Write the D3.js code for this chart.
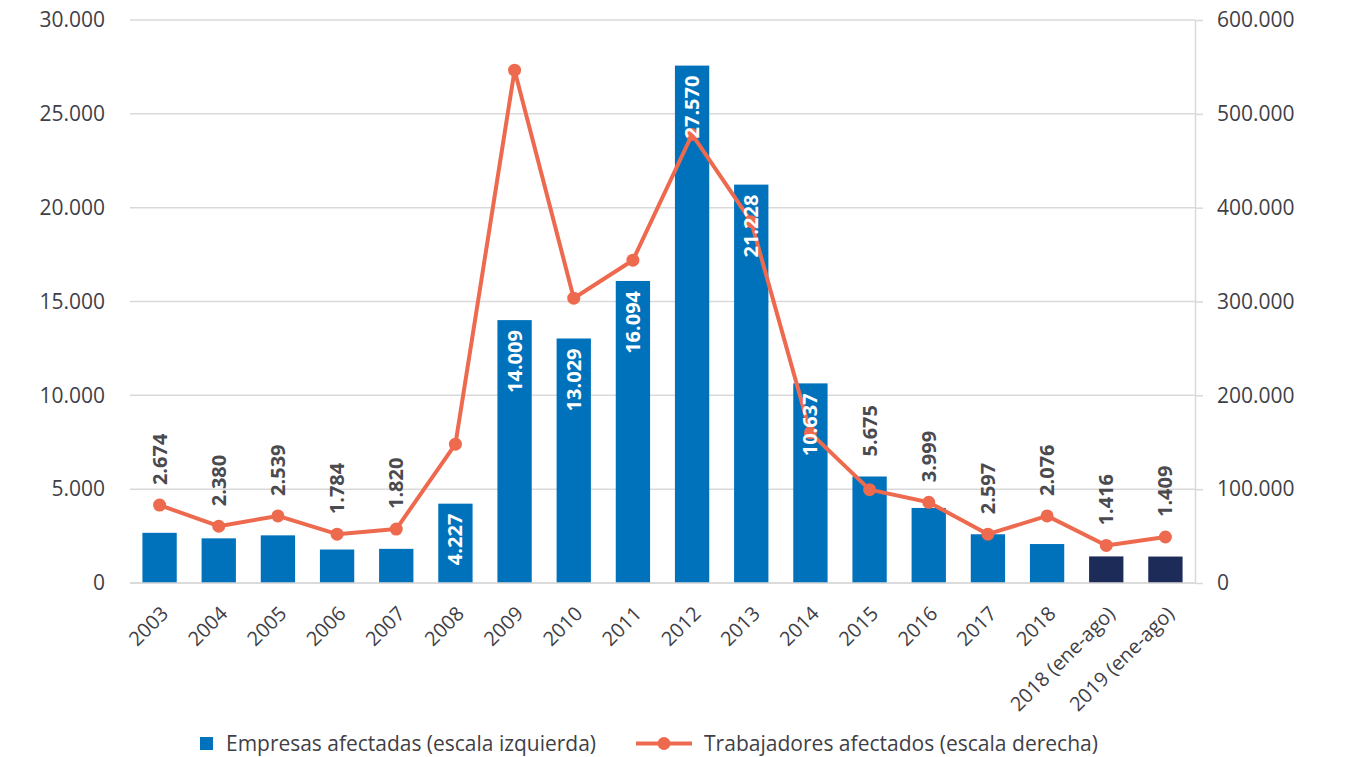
<!DOCTYPE html>
<html>
<head>
<meta charset="utf-8">
<script src="https://cdn.jsdelivr.net/npm/d3@7"></script>
<style>
  html, body { margin: 0; padding: 0; background: #fff; }
  svg { display: block; }
  text { font-family: "Open Sans", "Noto Sans", sans-serif; }
</style>
</head>
<body>
<svg id="chart" width="1349" height="757"></svg>
<script>
// ---- data ----
const categories = ["2003","2004","2005","2006","2007","2008","2009","2010","2011","2012","2013","2014","2015","2016","2017","2018","2018 (ene-ago)","2019 (ene-ago)"];
const empresas = [2674, 2380, 2539, 1784, 1820, 4227, 14009, 13029, 16094, 27570, 21228, 10637, 5675, 3999, 2597, 2076, 1416, 1409];
const trabajadores = [83000, 60500, 71500, 52000, 57500, 148000, 546500, 303500, 344000, 478000, 385000, 160000, 99500, 86000, 52000, 71500, 40000, 49000];
const partial = [false,false,false,false,false,false,false,false,false,false,false,false,false,false,false,false,true,true];
const labelInside = [false,false,false,false,false,true,true,true,true,true,true,true,false,false,false,false,false,false];
const leftTicks = [0, 5000, 10000, 15000, 20000, 25000, 30000];
const rightTicks = [0, 100000, 200000, 300000, 400000, 500000, 600000];
const legendLabels = ["Empresas afectadas (escala izquierda)", "Trabajadores afectados (escala derecha)"];

// ---- setup ----
const locale = d3.formatLocale({decimal: ",", thousands: ".", grouping: [3], currency: ["", ""]});
const fmt = locale.format(",d");

const svg = d3.select("#chart");
const L = 130, R = 1195, T = 20, B = 583;
const blue = "#0072BC", navy = "#1D2B59", orange = "#EE6A4E", grid = "#D9D9D9", txt = "#3F3F47";

const x = d3.scaleBand().domain(categories).range([L, R]).paddingInner(0.42).paddingOuter(0.21);
const yL = d3.scaleLinear().domain([0, 30000]).range([B, T]);
const yR = d3.scaleLinear().domain([0, 600000]).range([B, T]);

// gridlines
svg.append("g").selectAll("line").data(leftTicks).join("line")
  .attr("x1", L).attr("x2", R)
  .attr("y1", d => yL(d)).attr("y2", d => yL(d))
  .attr("stroke", grid).attr("stroke-width", 1.5);

// left axis labels
const gL = svg.append("g").attr("transform", `translate(${L},0)`)
  .call(d3.axisLeft(yL).tickValues(leftTicks).tickFormat(fmt).tickSize(0).tickPadding(25));
gL.select(".domain").remove();
gL.selectAll("text").attr("font-size", 21).attr("fill", txt).style("font-family", "Open Sans");

// right axis
const gR = svg.append("g").attr("transform", `translate(${R},0)`)
  .call(d3.axisRight(yR).tickValues(rightTicks).tickFormat(fmt).tickSize(8).tickSizeOuter(0).tickPadding(14));
gR.select(".domain").attr("stroke", grid).attr("stroke-width", 1.5);
gR.selectAll(".tick line").attr("stroke", grid).attr("stroke-width", 1.5);
gR.selectAll("text").attr("font-size", 21).attr("fill", txt).style("font-family", "Open Sans");

// bars
svg.append("g").selectAll("rect").data(categories).join("rect")
  .attr("x", d => x(d)).attr("width", x.bandwidth())
  .attr("y", (d, i) => yL(empresas[i]))
  .attr("height", (d, i) => B - yL(empresas[i]))
  .attr("fill", (d, i) => partial[i] ? navy : blue);

// x axis labels
const gX = svg.append("g").attr("transform", `translate(0,${B})`)
  .call(d3.axisBottom(x).tickSize(0).tickPadding(0));
gX.select(".domain").attr("stroke", grid).attr("stroke-width", 1.5).attr("d", `M${L},0H${R}`);
gX.selectAll("text")
  .attr("font-size", 20).attr("fill", txt).style("font-family", "Open Sans")
  .attr("text-anchor", "end")
  .attr("dy", 0)
  .attr("transform", "translate(10,32) rotate(-45)");

// line
const pts = categories.map((c, i) => [x(c) + x.bandwidth() / 2, yR(trabajadores[i])]);
svg.append("path").datum(pts)
  .attr("d", d3.line())
  .attr("fill", "none").attr("stroke", orange).attr("stroke-width", 4).attr("stroke-linejoin", "round");
svg.append("g").selectAll("circle").data(pts).join("circle")
  .attr("cx", d => d[0]).attr("cy", d => d[1]).attr("r", 6.5).attr("fill", orange);

// data labels
svg.append("g").selectAll("text").data(categories).join("text")
  .attr("transform", (d, i) => {
    const cx = x(d) + x.bandwidth() / 2 + 7;
    let cy;
    if (labelInside[i]) cy = yL(empresas[i]) + 10;
    else cy = Math.min(yL(empresas[i]), yR(trabajadores[i])) - 20;
    return `translate(${cx},${cy}) rotate(-90)`;
  })
  .attr("text-anchor", (d, i) => labelInside[i] ? "end" : "start")
  .attr("font-size", 20).attr("font-weight", "bold")
  .attr("fill", (d, i) => labelInside[i] ? "#FFFFFF" : "#4A4A4F")
  .text((d, i) => fmt(empresas[i]));

// legend
const lg = svg.append("g");
lg.append("rect").attr("x", 200).attr("y", 737).attr("width", 13).attr("height", 13).attr("fill", blue);
lg.append("text").attr("x", 226).attr("y", 751).attr("font-size", 21).attr("fill", txt)
  .attr("textLength", 370).attr("lengthAdjust", "spacingAndGlyphs").text(legendLabels[0]);
lg.append("line").attr("x1", 636).attr("x2", 692).attr("y1", 743.5).attr("y2", 743.5)
  .attr("stroke", orange).attr("stroke-width", 4);
lg.append("circle").attr("cx", 664).attr("cy", 743.5).attr("r", 6.5).attr("fill", orange);
lg.append("text").attr("x", 704).attr("y", 751).attr("font-size", 21).attr("fill", txt)
  .attr("textLength", 394).attr("lengthAdjust", "spacingAndGlyphs").text(legendLabels[1]);
</script>
</body>
</html>
